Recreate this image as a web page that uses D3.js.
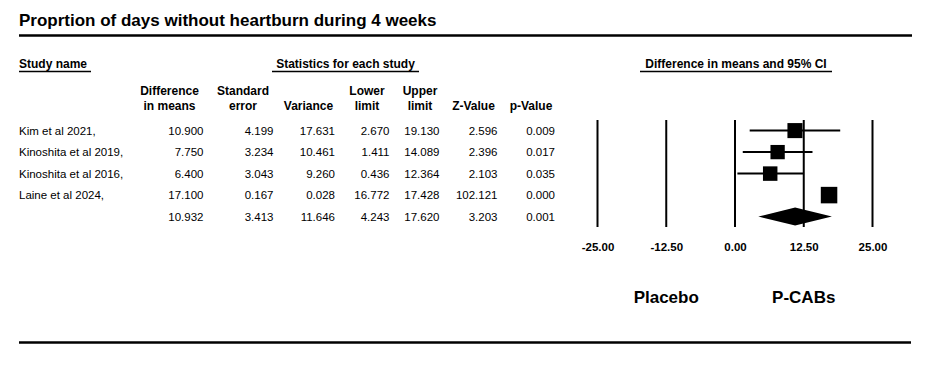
<!DOCTYPE html>
<html>
<head>
<meta charset="utf-8">
<script src="https://cdn.jsdelivr.net/npm/d3@7"></script>
<style>
  html, body { margin: 0; padding: 0; background: #fff; }
  svg { display: block; font-family: "Liberation Sans", Arial, sans-serif; }
</style>
</head>
<body>
<svg id="chart" width="936" height="378"></svg>
<script>
// data
const studyNames = ["Kim et al 2021,", "Kinoshita et al 2019,", "Kinoshita et al 2016,", "Laine et al 2024,", ""];
const diffMeans = [10.900, 7.750, 6.400, 17.100, 10.932];
const stdErrors = [4.199, 3.234, 3.043, 0.167, 3.413];
const variances = [17.631, 10.461, 9.260, 0.028, 11.646];
const lowerLimits = [2.670, 1.411, 0.436, 16.772, 4.243];
const upperLimits = [19.130, 14.089, 12.364, 17.428, 17.620];
const zValues = [2.596, 2.396, 2.103, 102.121, 3.203];
const pValues = [0.009, 0.017, 0.035, 0.000, 0.001];
const relWeights = [0.83, 0.75, 0.77, 1.0];
const xTicks = [-25, -12.5, 0, 12.5, 25];

const svg = d3.select("#chart");
const fmt = d3.format(".3f");

// rows -> vertical centres
const rowY = d3.scaleLinear().domain([0, 1]).range([130.6, 152.1]);

// title and rules
svg.append("text")
    .attr("x", 19).attr("y", 26)
    .attr("font-size", 17).attr("font-weight", "bold")
    .text("Proprtion of days without heartburn during 4 weeks");

svg.append("line")
    .attr("x1", 19).attr("x2", 912).attr("y1", 35.5).attr("y2", 35.5)
    .attr("stroke", "#000").attr("stroke-width", 2.5);
svg.append("line")
    .attr("x1", 19).attr("x2", 911).attr("y1", 342.5).attr("y2", 342.5)
    .attr("stroke", "#000").attr("stroke-width", 2.5);

// underlined section headers
[
    { text: "Study name", x: 19, anchor: "start", x1: 19, x2: 91 },
    { text: "Statistics for each study", x: 345.5, anchor: "middle", x1: 272, x2: 419 },
    { text: "Difference in means and 95% CI", x: 736, anchor: "middle", x1: 640, x2: 832 },
].forEach((h) => {
    svg.append("text")
        .attr("x", h.x).attr("y", 67.5)
        .attr("text-anchor", h.anchor)
        .attr("font-size", 12).attr("font-weight", "bold")
        .text(h.text);
    svg.append("line")
        .attr("x1", h.x1).attr("x2", h.x2).attr("y1", 71.5).attr("y2", 71.5)
        .attr("stroke", "#000").attr("stroke-width", 1.5);
});

// statistics table
const columns = [
    { head: ["Difference", "in means"], centre: 169.5, right: 203.5, values: diffMeans },
    { head: ["Standard", "error"], centre: 243, right: 273.5, values: stdErrors },
    { head: ["", "Variance"], centre: 308.5, right: 335, values: variances },
    { head: ["Lower", "limit"], centre: 367, right: 389.5, values: lowerLimits },
    { head: ["Upper", "limit"], centre: 420, right: 439.5, values: upperLimits },
    { head: ["", "Z-Value"], centre: 473.5, right: 497.5, values: zValues },
    { head: ["", "p-Value"], centre: 531, right: 555, values: pValues },
];

const headG = svg.append("g")
    .attr("font-size", 12).attr("font-weight", "bold").attr("text-anchor", "middle");
columns.forEach((c) => {
    c.head.forEach((line, i) => {
        if (!line) return;
        headG.append("text")
            .attr("x", c.centre).attr("y", 94.5 + i * 15)
            .text(line);
    });
});

svg.append("g").attr("font-size", 11.5)
    .selectAll("text")
    .data(studyNames)
    .enter()
    .append("text")
    .attr("x", 19)
    .attr("y", (d, i) => rowY(i) + 4)
    .text((d) => d);

const numG = svg.append("g")
    .attr("font-size", 11.5)
    .attr("text-anchor", "end");
columns.forEach((c) => {
    numG.append("g")
        .selectAll("text")
        .data(c.values)
        .enter()
        .append("text")
        .attr("x", c.right)
        .attr("y", (d, i) => rowY(i) + 4)
        .text((d) => fmt(d));
});

// forest plot
const x = d3.scaleLinear().domain([-25, 25]).range([597.5, 872.5]);

svg.append("g")
    .selectAll("line")
    .data(xTicks)
    .enter()
    .append("line")
    .attr("x1", (d) => x(d)).attr("x2", (d) => x(d))
    .attr("y1", 120).attr("y2", 227)
    .attr("stroke", "#000").attr("stroke-width", 2);

// plain hyphen for negatives, as in the source
const tickFmt = (d) => (d < 0 ? "-" : "") + Math.abs(d).toFixed(2);
const axisG = svg.append("g")
    .attr("transform", "translate(0,243)")
    .call(d3.axisBottom(x).tickValues(xTicks).tickSize(0).tickPadding(0).tickFormat(tickFmt));
axisG.select(".domain").remove();
axisG.selectAll("text")
    .attr("font-family", "'Liberation Sans', Arial, sans-serif")
    .attr("font-size", 11.5).attr("font-weight", "bold")
    .attr("fill", "#000");

const studyIdx = d3.range(relWeights.length);
const boxSize = d3.scaleSqrt().domain([0, 1]).range([0, 16.5]);

svg.append("g")
    .selectAll("line")
    .data(studyIdx)
    .enter()
    .append("line")
    .attr("x1", (i) => x(lowerLimits[i])).attr("x2", (i) => x(upperLimits[i]))
    .attr("y1", (i) => rowY(i)).attr("y2", (i) => rowY(i))
    .attr("stroke", "#000").attr("stroke-width", 2);

svg.append("g")
    .selectAll("rect")
    .data(studyIdx)
    .enter()
    .append("rect")
    .attr("x", (i) => x(diffMeans[i]) - boxSize(relWeights[i]) / 2)
    .attr("y", (i) => rowY(i) - boxSize(relWeights[i]) / 2)
    .attr("width", (i) => boxSize(relWeights[i]))
    .attr("height", (i) => boxSize(relWeights[i]))
    .attr("fill", "#000");

// summary diamond
const s = 4, sy = rowY(s), half = 9;
svg.append("path")
    .attr("d", `M${x(lowerLimits[s])},${sy}L${x(diffMeans[s])},${sy - half}L${x(upperLimits[s])},${sy}L${x(diffMeans[s])},${sy + half}Z`)
    .attr("fill", "#000");

// favours labels
svg.append("g")
    .attr("font-size", 17).attr("font-weight", "bold").attr("text-anchor", "middle")
    .selectAll("text")
    .data([{ v: -12.5, t: "Placebo" }, { v: 12.5, t: "P-CABs" }])
    .enter()
    .append("text")
    .attr("x", (d) => x(d.v))
    .attr("y", 302.5)
    .text((d) => d.t);
</script>
</body>
</html>
